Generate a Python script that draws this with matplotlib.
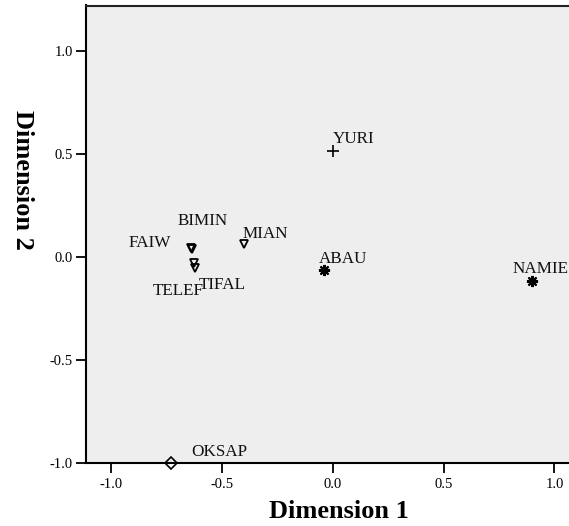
import matplotlib
matplotlib.use('Agg')
import matplotlib.pyplot as plt

plt.rcParams['font.family'] = ['Liberation Serif', 'DejaVu Serif']

# Coordenadas dos objetos (dimensão 1, dimensão 2)
names = ['YURI', 'ABAU', 'NAMIE', 'OKSAP', 'MIAN', 'BIMIN', 'FAIW', 'TELEF', 'TIFAL']
dim1 = [0.00, -0.04, 0.90, -0.73, -0.40, -0.637, -0.641, -0.627, -0.623]
dim2 = [0.515, -0.063, -0.117, -1.00, 0.062, 0.041, 0.045, -0.031, -0.055]
groups = ['plus', 'star', 'star', 'diamond', 'tri', 'tri', 'tri', 'tri', 'tri']

# estilo dos marcadores por grupo
marker_style = {
    'plus': dict(marker='+', ms=8, mew=1.2, mfc='none'),
    'star': dict(marker=(8, 2, 0), ms=8, mew=1.5, mfc='none'),
    'diamond': dict(marker='D', ms=6.5, mew=1.2, mfc='none'),
    'tri': dict(marker='v', ms=6, mew=1.3, mfc='none'),
}

# deslocamento dos rótulos (pixels) e alinhamento horizontal
label_offset = {
    'YURI': (0, 8, 'left'), 'ABAU': (-5, 7, 'left'), 'NAMIE': (-20, 8, 'left'),
    'OKSAP': (20, 7, 'left'), 'MIAN': (-2, 6, 'left'), 'BIMIN': (-14, 24, 'left'),
    'FAIW': (-20, 1, 'right'), 'TELEF': (-41, -32, 'left'), 'TIFAL': (4, -21, 'left'),
}

W, H = 569, 526
fig = plt.figure(figsize=(W / 100, H / 100), dpi=100)
ax = fig.add_axes([86 / W, 63 / H, (574 - 86) / W, (463 - 5.5) / H])
ax.set_facecolor('#eeeeee')

for n, x, y, g in zip(names, dim1, dim2, groups):
    ax.plot(x, y, linestyle='none', color='black', mec='black', clip_on=False,
            zorder=3, **marker_style[g])
    dx, dy, ha = label_offset[n]
    ax.annotate(n, (x, y), xytext=(dx, dy), textcoords='offset pixels',
                ha=ha, va='baseline', fontsize=12.3, color='#111111',
                annotation_clip=False)

ax.set_xlim(-1.113, 1.088)
ax.set_ylim(-1.0, 1.221)
ax.set_xticks([-1.0, -0.5, 0.0, 0.5, 1.0])
ax.set_yticks([-1.0, -0.5, 0.0, 0.5, 1.0])
ax.set_xticklabels(['-1.0', '-0.5', '0.0', '0.5', '1.0'])
ax.set_yticklabels(['-1.0', '-0.5', '0.0', '0.5', '1.0'])
ax.tick_params(direction='out', length=7.5, width=1.3, labelsize=10.5,
               colors='black', pad=3)
ax.tick_params(axis='y', pad=2)

for s in ['left', 'bottom', 'top']:
    ax.spines[s].set_linewidth(1.5)
    ax.spines[s].set_color('black')
ax.spines['right'].set_visible(False)
ax.spines['top'].set_color('#222222')

fig.text(339 / W, 1 - 512 / H, 'Dimension 1', ha='center', va='center',
         fontsize=19, fontweight='bold')
fig.text(22 / W, 1 - 180 / H, 'Dimension 2', ha='center', va='center',
         fontsize=19, fontweight='bold', rotation=-90)

fig.savefig('out.png', dpi=100)
